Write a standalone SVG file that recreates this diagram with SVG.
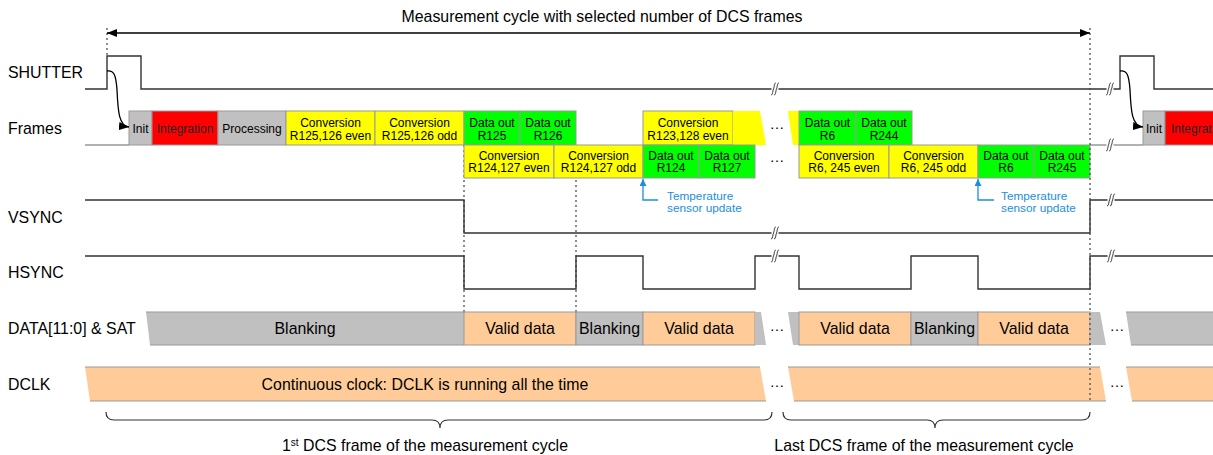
<svg xmlns="http://www.w3.org/2000/svg" width="1213" height="455" viewBox="0 0 1213 455">
<style>
text{font-family:"Liberation Sans",Arial,sans-serif;fill:#000}
.lbl{font-size:15.9px}
.big{font-size:15.9px;text-anchor:middle}
.bx{font-size:12px;text-anchor:middle}
.blue{font-size:11.8px;fill:#1b8fdc}
.dots{font-size:15px;text-anchor:middle}
.sig{fill:none;stroke:#333;stroke-width:1.4}
.base{fill:none;stroke:#999;stroke-width:1.4}
.y{fill:#ffff00;stroke:#999;stroke-width:1}
.g{fill:#00ff00;stroke:#999;stroke-width:1}
.r{fill:#ff0000;stroke:#999;stroke-width:1}
.gr{fill:#c0c0c0;stroke:#999;stroke-width:1}
.o{fill:#ffcc99;stroke:#999;stroke-width:1}
.yf{fill:#ffff00}
.grf{fill:#c0c0c0}
.of{fill:#ffcc99}
.edge{stroke:#999;stroke-width:1;fill:none}
.dot{stroke:#444;stroke-width:1.2;stroke-dasharray:2,3;fill:none}
.conn{fill:none;stroke:#000;stroke-width:1.3}
.bl{fill:none;stroke:#1b8fdc;stroke-width:1.3}
.brace{fill:none;stroke:#333;stroke-width:1.2}
</style>
<defs>
<marker id="ah" markerWidth="11" markerHeight="8" refX="10" refY="4" orient="auto-start-reverse" markerUnits="userSpaceOnUse"><path d="M0,0 L10,4 L0,8 z" fill="#000"/></marker>
<marker id="ahb" markerWidth="8" markerHeight="7" refX="7" refY="3.5" orient="auto" markerUnits="userSpaceOnUse"><path d="M0,0 L7,3.5 L0,7 z" fill="#1b8fdc"/></marker>
<g id="brk"><rect x="-3.5" y="-7" width="7" height="14" fill="#fff"/><path d="M-4,6 C-2,6 -2.5,2 -1.5,0 S-1,-6 1,-6 M-1,6 C1,6 0.5,2 1.5,0 S2,-6 4,-6" fill="none" stroke="#333" stroke-width="1"/></g>
<clipPath id="edgeclip"><rect x="0" y="0" width="1213" height="455"/></clipPath>
</defs>
<rect width="1213" height="455" fill="#fff"/>

<g id="labels">
<text x="602" y="22" class="big">Measurement cycle with selected number of DCS frames</text>
<text x="8" y="77.5" class="lbl">SHUTTER</text>
<text x="8" y="133.5" class="lbl">Frames</text>
<text x="8" y="222.5" class="lbl">VSYNC</text>
<text x="8" y="278" class="lbl">HSYNC</text>
<text x="8" y="333.5" class="lbl">DATA[11:0] &amp; SAT</text>
<text x="8" y="389.5" class="lbl">DCLK</text>
</g>

<g id="dotted-guides">
<line x1="107" y1="28" x2="107" y2="56" class="dot"/>
<line x1="464" y1="145" x2="464" y2="312" class="dot"/>
<line x1="576" y1="145" x2="576" y2="312" class="dot"/>
</g>

<g id="shutter">
<polyline class="sig" points="85,89 107,89 107,56 141,56 141,89 1120,89 1120,56 1154,56 1154,89 1213,89"/>
<use href="#brk" x="775" y="89"/>
<use href="#brk" x="1110" y="89"/>
</g>

<g id="vsync">
<polyline class="sig" points="85,200 464,200 464,233 1090,233 1090,200 1213,200"/>
<use href="#brk" x="775" y="233"/>
<use href="#brk" x="1111" y="200"/>
</g>

<g id="hsync">
<polyline class="sig" points="85,256 464,256 464,289 576,289 576,256 643,256 643,289 755,289 755,256 799,256 799,289 911,289 911,256 978,256 978,289 1090,289 1090,256 1213,256"/>
<use href="#brk" x="775" y="256"/>
<use href="#brk" x="1111" y="256"/>
</g>

<g id="frames-baseline">
<line x1="85" y1="145" x2="129" y2="145" class="base"/>
<line x1="1090" y1="145" x2="1143" y2="145" class="base"/>
<use href="#brk" x="1110" y="145"/>
</g>

<g id="frames-upper">
<g id="f-init"><rect x="129" y="111" width="23" height="34" class="gr"/><text x="140.5" y="132.5" class="bx">Init</text></g>
<g id="f-integration"><rect x="152" y="111" width="66" height="34" class="r"/><text x="185" y="132.5" class="bx" style="fill:#222">Integration</text></g>
<g id="f-processing"><rect x="218" y="111" width="68" height="34" class="gr"/><text x="252" y="132.5" class="bx">Processing</text></g>
<g id="f-conv-even"><rect x="286" y="111" width="89" height="34" class="y"/><text x="330.5" y="126.5" class="bx">Conversion</text><text x="330.5" y="139.5" class="bx">R125,126 even</text></g>
<g id="f-conv-odd"><rect x="375" y="111" width="89" height="34" class="y"/><text x="419.5" y="126.5" class="bx">Conversion</text><text x="419.5" y="139.5" class="bx">R125,126 odd</text></g>
<g id="f-do-r125"><rect x="464" y="111" width="56" height="34" class="g"/><text x="492" y="126.5" class="bx">Data out</text><text x="492" y="139.5" class="bx">R125</text></g>
<g id="f-do-r126"><rect x="520" y="111" width="56" height="34" class="g"/><text x="548" y="126.5" class="bx">Data out</text><text x="548" y="139.5" class="bx">R126</text></g>
<g id="f-conv-r123"><rect x="643" y="111" width="90" height="34" class="y"/><text x="688" y="126.5" class="bx">Conversion</text><text x="688" y="139.5" class="bx">R123,128 even</text></g>
<g id="f-sliver1"><polygon points="733,111 760,111 766,145 733,145" class="yf"/></g>
<text x="777" y="129" class="dots">…</text>
<g id="f-sliver2"><polygon points="788,111 799,111 799,145 793,145" class="yf"/></g>
<g id="f-do-r6a"><rect x="799" y="111" width="57" height="34" class="g"/><text x="827.5" y="126.5" class="bx">Data out</text><text x="827.5" y="139.5" class="bx">R6</text></g>
<g id="f-do-r244"><rect x="856" y="111" width="56" height="34" class="g"/><text x="884" y="126.5" class="bx">Data out</text><text x="884" y="139.5" class="bx">R244</text></g>
<g id="f-init2"><rect x="1143" y="111" width="22" height="34" class="gr"/><text x="1154" y="132.5" class="bx">Init</text></g>
<g id="f-integration2" clip-path="url(#edgeclip)"><rect x="1165" y="111" width="66" height="34" class="r"/><text x="1171" y="132.5" class="bx" style="fill:#222;text-anchor:start">Integration</text></g>
</g>

<g id="frames-lower">
<g id="f-conv-r124e"><rect x="464" y="145" width="90" height="33" class="y"/><text x="509" y="159.5" class="bx">Conversion</text><text x="509" y="172" class="bx">R124,127 even</text></g>
<g id="f-conv-r124o"><rect x="554" y="145" width="89" height="33" class="y"/><text x="598.5" y="159.5" class="bx">Conversion</text><text x="598.5" y="172" class="bx">R124,127 odd</text></g>
<g id="f-do-r124"><rect x="643" y="145" width="56" height="33" class="g"/><text x="671" y="159.5" class="bx">Data out</text><text x="671" y="172" class="bx">R124</text></g>
<g id="f-do-r127"><rect x="699" y="145" width="56" height="33" class="g"/><text x="727" y="159.5" class="bx">Data out</text><text x="727" y="172" class="bx">R127</text></g>
<text x="777" y="162" class="dots">…</text>
<g id="f-conv-r6e"><rect x="799" y="145" width="90" height="33" class="y"/><text x="844" y="159.5" class="bx">Conversion</text><text x="844" y="172" class="bx">R6, 245 even</text></g>
<g id="f-conv-r6o"><rect x="889" y="145" width="89" height="33" class="y"/><text x="933.5" y="159.5" class="bx">Conversion</text><text x="933.5" y="172" class="bx">R6, 245 odd</text></g>
<g id="f-do-r6b"><rect x="978" y="145" width="56" height="33" class="g"/><text x="1006" y="159.5" class="bx">Data out</text><text x="1006" y="172" class="bx">R6</text></g>
<g id="f-do-r245"><rect x="1034" y="145" width="56" height="33" class="g"/><text x="1062" y="159.5" class="bx">Data out</text><text x="1062" y="172" class="bx">R245</text></g>
</g>

<g id="data-row">
<polygon points="146,312 464,312 464,345 150,345" class="grf"/>
<line x1="146" y1="312" x2="464" y2="312" class="edge"/><line x1="150" y1="345" x2="464" y2="345" class="edge"/>
<text x="305" y="333.5" class="big">Blanking</text>
<rect x="464" y="312" width="112" height="33" class="o"/><text x="520" y="333.5" class="big">Valid data</text>
<rect x="576" y="312" width="67" height="33" class="gr"/><text x="609.5" y="333.5" class="big">Blanking</text>
<rect x="643" y="312" width="112" height="33" class="o"/><text x="699" y="333.5" class="big">Valid data</text>
<polygon points="755,312 761,312 766,345 755,345" class="grf"/>
<text x="777" y="331" class="dots">…</text>
<polygon points="788,312 799,312 799,345 793,345" class="grf"/>
<rect x="799" y="312" width="112" height="33" class="o"/><text x="855" y="333.5" class="big">Valid data</text>
<rect x="911" y="312" width="67" height="33" class="gr"/><text x="944.5" y="333.5" class="big">Blanking</text>
<rect x="978" y="312" width="112" height="33" class="o"/><text x="1034" y="333.5" class="big">Valid data</text>
<polygon points="1090,312 1100,312 1106,345 1090,345" class="grf"/>
<text x="1117" y="331" class="dots">…</text>
<polygon points="1126,312 1213,312 1213,345 1131,345" class="grf"/>
<line x1="1126" y1="312" x2="1213" y2="312" class="edge"/><line x1="1131" y1="345" x2="1213" y2="345" class="edge"/>
</g>

<g id="dclk-row">
<polygon points="85,367 760,367 766,401 90,401" class="of"/>
<line x1="85" y1="367" x2="760" y2="367" class="edge"/><line x1="90" y1="401" x2="766" y2="401" class="edge"/>
<text x="425" y="389.5" class="big">Continuous clock: DCLK is running all the time</text>
<text x="777" y="387" class="dots">…</text>
<polygon points="788,367 1100,367 1106,401 794,401" class="of"/>
<line x1="788" y1="367" x2="1100" y2="367" class="edge"/><line x1="794" y1="401" x2="1106" y2="401" class="edge"/>
<text x="1117" y="387" class="dots">…</text>
<polygon points="1126,367 1213,367 1213,401 1132,401" class="of"/>
<line x1="1126" y1="367" x2="1213" y2="367" class="edge"/><line x1="1132" y1="401" x2="1213" y2="401" class="edge"/>
</g>

<line x1="1090" y1="28" x2="1090" y2="401" class="dot"/>

<g id="connectors">
<line x1="107" y1="33" x2="1090" y2="33" class="conn" marker-start="url(#ah)" marker-end="url(#ah)"/>
<path d="M107,71 C114,70 116,75 117,90 C118,112 119,126 129,127" class="conn" marker-end="url(#ah)"/>
<path d="M1120,71 C1127,70 1129,75 1130,90 C1131,112 1132,126 1143,127" class="conn" marker-end="url(#ah)"/>
<path d="M658,200 L643,200 L643,179" class="bl" marker-end="url(#ahb)"/>
<path d="M994,200 L978,200 L978,179" class="bl" marker-end="url(#ahb)"/>
</g>

<g id="temp-labels">
<text x="667" y="200" class="blue">Temperature</text>
<text x="667" y="212" class="blue">sensor update</text>
<text x="1001" y="200" class="blue">Temperature</text>
<text x="1001" y="212" class="blue">sensor update</text>
</g>

<g id="braces">
<path class="brace" d="M106,412 Q106,420 114,420 L432,420 Q440,420 440,428 Q440,420 448,420 L764,420 Q772,420 772,412"/>
<path class="brace" d="M783,412 Q783,420 791,420 L927,420 Q935,420 935,428 Q935,420 943,420 L1082,420 Q1090,420 1090,412"/>
<text x="425" y="451" class="big">1<tspan font-size="10" dy="-5">st</tspan><tspan dy="5"> DCS frame of the measurement cycle</tspan></text>
<text x="924" y="451" class="big">Last DCS frame of the measurement cycle</text>
</g>
</svg>
